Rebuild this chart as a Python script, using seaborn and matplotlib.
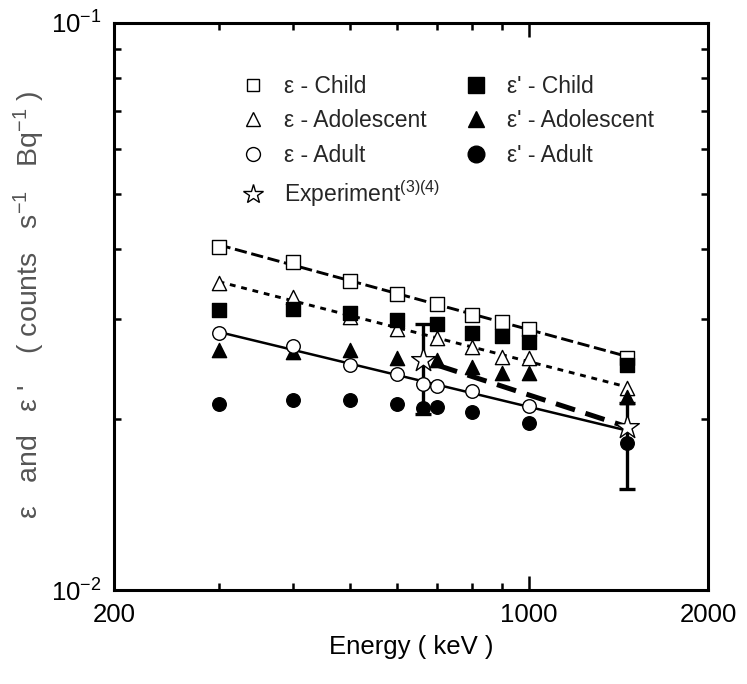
import matplotlib
matplotlib.use('Agg')
import matplotlib.pyplot as plt
from matplotlib.lines import Line2D
import numpy as np
import pandas as pd
import seaborn as sns

# energias (keV) e eficiencias
energia = [300, 400, 500, 600, 700, 800, 900, 1000, 1461]
energia_adulto = [300, 400, 500, 600, 662, 700, 800, 1000]
energia_adulto_linha = [300, 400, 500, 600, 662, 700, 800, 1000, 1461]

eps_crianca = [0.0402, 0.0379, 0.0351, 0.0333, 0.0319, 0.0306, 0.0297, 0.0289, 0.0257]
eps_adolescente = [0.0348, 0.0328, 0.0303, 0.0289, 0.0278, 0.0268, 0.0258, 0.0257, 0.0227]
eps_adulto = [0.0284, 0.0269, 0.0249, 0.0240, 0.0231, 0.0229, 0.0224, 0.0211]

epsl_crianca = [0.0312, 0.0313, 0.0308, 0.0299, 0.0294, 0.0284, 0.0281, 0.0274, 0.0249]
epsl_adolescente = [0.0265, 0.0263, 0.0265, 0.0257, 0.0254, 0.0247, 0.0241, 0.0241, 0.0219]
epsl_adulto = [0.0213, 0.0216, 0.0216, 0.0213, 0.0209, 0.0210, 0.0206, 0.0197, 0.0182]

energia_exp = [662, 1461]
eps_exp = [0.0254, 0.0194]
erro_baixo = [0.0050, 0.0043]
erro_cima = [0.0040, 0.0020]

sns.set_theme(style='white')
plt.rcParams['font.family'] = ['Liberation Sans', 'DejaVu Sans']
plt.rcParams['mathtext.fontset'] = 'custom'
plt.rcParams['mathtext.rm'] = 'Liberation Sans'
plt.rcParams['mathtext.it'] = 'Liberation Sans:italic'
plt.rcParams['mathtext.default'] = 'regular'


def ajuste(x, y, x_novo):
    # reta no log-log
    coef = np.polyfit(np.log10(x), np.log10(y), 1)
    return 10 ** np.polyval(coef, np.log10(x_novo))


fig = plt.figure(figsize=(7.47, 6.84), dpi=100)
ax = fig.add_axes([0.1526, 0.1374, 0.7952, 0.829])
ax.set_xscale('log')
ax.set_yscale('log')

x_linha = np.array([300, 1461])
sns.lineplot(x=x_linha, y=ajuste(energia, eps_crianca, x_linha), ax=ax, color='black',
             lw=2.1, linestyle=(0, (4.2, 1.6)))
sns.lineplot(x=x_linha, y=ajuste(energia, eps_adolescente, x_linha), ax=ax, color='black',
             lw=2.1, linestyle=(0, (2, 2)))
sns.lineplot(x=x_linha, y=ajuste(energia_adulto, eps_adulto, x_linha), ax=ax, color='black',
             lw=1.8)
sns.lineplot(x=energia_exp, y=eps_exp, ax=ax, color='black', lw=3.6, linestyle=(3, (4, 2.2)))

aberto = dict(facecolor='white', edgecolor='black', linewidth=1.0, zorder=3)
cheio = dict(color='black', edgecolor='black', linewidth=1.0, zorder=3)

sns.scatterplot(x=energia, y=eps_adolescente, marker='^', s=105, ax=ax, **aberto)
sns.scatterplot(x=energia, y=eps_crianca, marker='s', s=105, ax=ax, **aberto)
sns.scatterplot(x=energia, y=epsl_crianca, marker='s', s=105, ax=ax, **cheio)
sns.scatterplot(x=energia, y=epsl_adolescente, marker='^', s=105, ax=ax, **cheio)
sns.scatterplot(x=energia_adulto, y=eps_adulto, marker='o', s=95, ax=ax, **aberto)
sns.scatterplot(x=energia_adulto_linha, y=epsl_adulto, marker='o', s=95, ax=ax, **cheio)

ax.errorbar(energia_exp, eps_exp, yerr=[erro_baixo, erro_cima], fmt='none', ecolor='black',
            elinewidth=2.4, capsize=6, capthick=2.4, zorder=2.5)
sns.scatterplot(x=energia_exp, y=eps_exp, marker='*', s=320, ax=ax, facecolor='white',
                edgecolor='black', linewidth=1.0, zorder=5)

ax.set_xlim(200, 2000)
ax.set_ylim(0.01, 0.1)
ax.set_xticks([200, 1000, 2000])
ax.set_xticklabels(['200', '1000', '2000'])
ax.set_xticks([300, 400, 500, 600, 700, 800, 900], minor=True)
ax.set_xticklabels([], minor=True)
ax.set_yticks([0.01, 0.1])
ax.set_yticklabels(['$10^{-2}$', '$10^{-1}$'])
ax.set_yticks([0.02, 0.03, 0.04, 0.05, 0.06, 0.07, 0.08, 0.09], minor=True)
ax.set_yticklabels([], minor=True)

ax.tick_params(which='both', direction='in', top=True, right=True, bottom=True, left=True,
               color='black', width=1.8, labelsize=18.5, labelcolor='black')
ax.tick_params(which='major', length=10, pad=9)
ax.tick_params(which='minor', length=5)
for s in ax.spines.values():
    s.set_linewidth(2.2)
    s.set_color('black')
ax.grid(False)

ax.set_xlabel('Energy ( keV )', fontsize=18.5, color='black', labelpad=6)
ax.set_ylabel("ε   and   ε '    ( counts   s$^{-1}$   Bq$^{-1}$ )", fontsize=20.5,
              color='#555555')
ax.yaxis.set_label_coords(-0.113, 0.503)

handles = [
    Line2D([], [], marker='s', ls='none', mfc='white', mec='black', ms=8.5, mew=1),
    Line2D([], [], marker='^', ls='none', mfc='white', mec='black', ms=10, mew=1),
    Line2D([], [], marker='o', ls='none', mfc='white', mec='black', ms=10, mew=1),
    Line2D([], [], marker='*', ls='none', mfc='white', mec='black', ms=15, mew=1),
    Line2D([], [], marker='s', ls='none', mfc='black', mec='black', ms=11),
    Line2D([], [], marker='^', ls='none', mfc='black', mec='black', ms=11),
    Line2D([], [], marker='o', ls='none', mfc='black', mec='black', ms=12),
]
rotulos = ['ε - Child', 'ε - Adolescent', 'ε - Adult', 'Experiment$^{(3)(4)}$',
           "ε' - Child", "ε' - Adolescent", "ε' - Adult"]
ax.legend(handles, rotulos, ncol=2, loc='upper left', bbox_to_anchor=(0.2, 0.925),
          frameon=False, fontsize=16.5, handlelength=1.0, handletextpad=0.85,
          labelspacing=0.5, columnspacing=1.05, borderaxespad=0)

plt.savefig('out.png', dpi=100)
